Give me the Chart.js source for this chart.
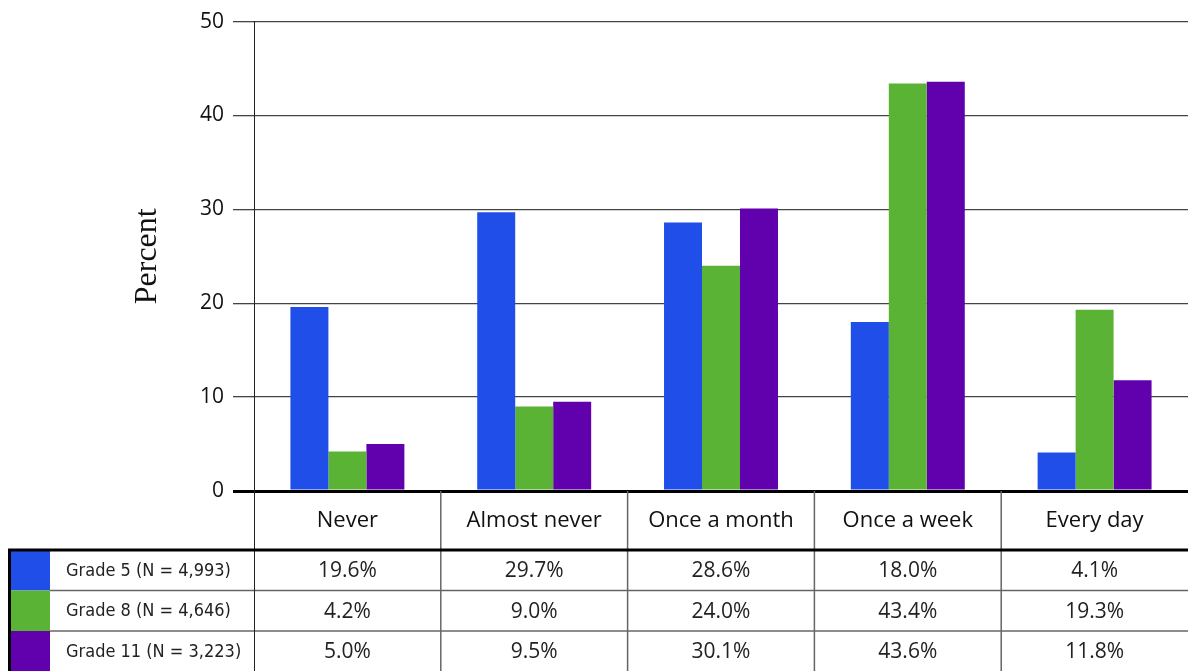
<!DOCTYPE html>
<html>
<head>
<meta charset="utf-8">
<script src="https://cdn.jsdelivr.net/npm/chart.js@4/dist/chart.umd.min.js"></script>
<style>
  html, body { margin: 0; padding: 0; background: #fff; }
  #wrap { width: 1188px; height: 671px; position: relative; }
</style>
</head>
<body>
<div id="wrap"><canvas id="chart"></canvas></div>
<script>
// ===================== DATA =====================
const categories = ['Never', 'Almost never', 'Once a month', 'Once a week', 'Every day'];
const seriesLabels = ['Grade 5 (N = 4,993)', 'Grade 8 (N = 4,646)', 'Grade 11 (N = 3,223)'];
const grade5 = [19.6, 29.7, 28.6, 18.0, 4.1];
const grade8 = [4.2, 9.0, 24.0, 43.4, 19.3];
const grade11 = [5.0, 9.5, 30.1, 43.6, 11.8];
const yTicks = [0, 10, 20, 30, 40, 50];

const seriesValues = [grade5, grade8, grade11];
const seriesColors = ['#1f4ee8', '#5bb335', '#6100ad'];

const SANS = "'Open Sans', sans-serif";
const NARROW = "'DejaVu Sans Condensed', 'DejaVu Sans', sans-serif";

// ===================== TABLE PLUGIN =====================
// draws the data table under the plot, aligned on the x scale
const tablePlugin = {
  id: 'dataTable',
  afterDraw(chart) {
    const { ctx, chartArea, scales } = chart;
    const x = scales.x;
    const top = chartArea.bottom;          // header row starts at the zero line
    const headBottom = top + 59;
    const rowH = 40.5;
    const colW = chartArea.width / categories.length;
    const left = chartArea.left;
    const right = chart.width;

    ctx.save();

    // header: category names
    ctx.fillStyle = '#111';
    ctx.font = `22px ${SANS}`;
    ctx.textAlign = 'center';
    ctx.textBaseline = 'middle';
    categories.forEach((c, i) => {
      ctx.fillText(c, x.getPixelForValue(i), (top + headBottom) / 2);
    });

    // rows
    seriesLabels.forEach((lab, r) => {
      const y0 = headBottom + r * rowH;
      ctx.fillStyle = seriesColors[r];
      ctx.fillRect(10, y0, 40, rowH);

      ctx.fillStyle = '#222';
      ctx.font = `18px ${NARROW}`;
      ctx.textAlign = 'left';
      ctx.fillText(lab, 66, y0 + rowH / 2 + 1);

      ctx.font = `21px ${SANS}`;
      ctx.textAlign = 'center';
      seriesValues[r].forEach((v, i) => {
        ctx.fillText(v.toFixed(1) + '%', x.getPixelForValue(i), y0 + rowH / 2 + 1);
      });

      if (r > 0) {
        ctx.strokeStyle = '#666';
        ctx.lineWidth = 1.5;
        ctx.beginPath();
        ctx.moveTo(50, y0);
        ctx.lineTo(right, y0);
        ctx.stroke();
      }
    });

    // column separators
    ctx.strokeStyle = '#666';
    ctx.lineWidth = 1.5;
    for (let i = 1; i < categories.length; i++) {
      const cx = left + i * colW;
      ctx.beginPath();
      ctx.moveTo(cx, top);
      ctx.lineTo(cx, chart.height);
      ctx.stroke();
    }

    // axis line continued through the table
    ctx.strokeStyle = '#222';
    ctx.lineWidth = 1;
    ctx.beginPath();
    ctx.moveTo(left + 0.5, top);
    ctx.lineTo(left + 0.5, chart.height);
    ctx.stroke();

    // thick borders
    ctx.strokeStyle = '#000';
    ctx.lineWidth = 3;
    ctx.beginPath();
    ctx.moveTo(8, headBottom);
    ctx.lineTo(right, headBottom);
    ctx.moveTo(9.5, headBottom);
    ctx.lineTo(9.5, chart.height);
    ctx.stroke();

    ctx.restore();
  }
};

// ===================== CHART =====================
new Chart(document.getElementById('chart'), {
  type: 'bar',
  data: {
    labels: categories,
    datasets: seriesLabels.map((lab, i) => ({
      label: lab,
      data: seriesValues[i],
      backgroundColor: seriesColors[i],
      borderWidth: 0,
      categoryPercentage: 0.61,
      barPercentage: 1.0,
    })),
  },
  options: {
    responsive: true,
    maintainAspectRatio: false,
    animation: false,
    layout: { padding: { top: 19, right: 0, bottom: 180, left: 0 } },
    plugins: {
      legend: { display: false },
      tooltip: { enabled: false },
    },
    scales: {
      x: { display: false },
      y: {
        min: 0,
        max: 50,
        afterFit: s => { s.width = 254; },
        afterBuildTicks: s => { s.ticks = yTicks.map(v => ({ value: v })); },
        ticks: {
          color: '#111',
          padding: 9,
          font: { family: SANS, size: 21 },
        },
        grid: {
          drawTicks: true,
          tickLength: 21,
          color: ctx => ctx.tick && ctx.tick.value === 0 ? '#000' : '#444',
          lineWidth: ctx => ctx.tick && ctx.tick.value === 0 ? 3 : 1.3,
        },
        border: { display: true, color: '#222', width: 1 },
        title: {
          display: true,
          text: 'Percent',
          color: '#111',
          font: { family: "'Liberation Serif', serif", size: 32 },
          padding: { top: 128, bottom: 0 },
        },
      },
    },
  },
  plugins: [tablePlugin],
});
</script>
</body>
</html>
